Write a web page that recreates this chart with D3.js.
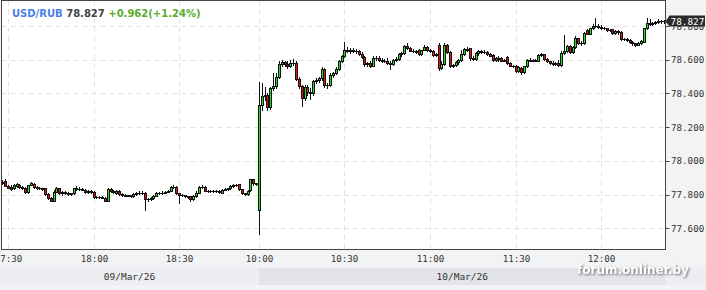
<!DOCTYPE html>
<html>
<head>
<meta charset="utf-8">
<script src="https://cdn.jsdelivr.net/npm/d3@7"></script>
<style>
  html, body { margin: 0; padding: 0; background: #f2f3f5; }
  svg { display: block; }
</style>
</head>
<body>
<div id="chart"></div>
<script>
// --- data ---
const pair = 'USD/RUB'
const lastPrice = 78.827
const changeText = '+0.962(+1.24%)'
const dayLabels = ['09/Mar/26', '10/Mar/26']
const dayStarts = ['17:28', '10:00']
const timeTicks = ['17:30', '18:00', '18:30', '10:00', '10:30', '11:00', '11:30', '12:00']
const priceTicks = [77.6, 77.8, 78.0, 78.2, 78.4, 78.6, 78.8]

// one candle per minute: [open, high, low, close]
const day1 = [
  [77.872,77.888,77.865,77.878],[77.883,77.890,77.850,77.852],[77.852,77.860,77.838,77.842],[77.848,77.855,77.826,77.832],
  [77.838,77.865,77.835,77.860],[77.850,77.868,77.845,77.864],[77.860,77.865,77.842,77.846],[77.846,77.850,77.835,77.840],
  [77.840,77.845,77.810,77.818],[77.818,77.860,77.810,77.858],[77.858,77.875,77.855,77.868],[77.866,77.870,77.840,77.845],
  [77.845,77.850,77.835,77.838],[77.838,77.845,77.832,77.838],[77.838,77.842,77.830,77.836],[77.838,77.840,77.800,77.804],
  [77.806,77.810,77.775,77.779],[77.779,77.785,77.760,77.765],[77.765,77.825,77.762,77.818],[77.818,77.845,77.815,77.838],
  [77.838,77.842,77.805,77.808],[77.808,77.820,77.800,77.816],[77.816,77.820,77.805,77.812],[77.812,77.815,77.800,77.805],
  [77.805,77.812,77.800,77.808],[77.808,77.840,77.805,77.838],[77.838,77.850,77.830,77.834],[77.834,77.845,77.830,77.832],
  [77.832,77.838,77.825,77.830],[77.830,77.834,77.810,77.818],[77.818,77.825,77.810,77.820],[77.820,77.825,77.810,77.815],
  [77.815,77.820,77.780,77.785],[77.785,77.790,77.780,77.785],[77.785,77.790,77.780,77.784],[77.784,77.790,77.778,77.782],
  [77.782,77.785,77.760,77.765],[77.765,77.840,77.760,77.832],[77.832,77.838,77.815,77.820],[77.820,77.825,77.810,77.818],
  [77.810,77.828,77.805,77.824],[77.824,77.830,77.800,77.806],[77.806,77.810,77.795,77.800],[77.800,77.805,77.790,77.795],
  [77.795,77.800,77.790,77.797],[77.797,77.800,77.785,77.792],[77.792,77.810,77.788,77.806],[77.806,77.815,77.800,77.810],
  [77.810,77.820,77.805,77.812],[77.812,77.820,77.805,77.810],[77.812,77.815,77.710,77.773],[77.773,77.780,77.765,77.772],
  [77.772,77.785,77.768,77.782],[77.780,77.800,77.775,77.795],[77.795,77.815,77.790,77.810],[77.810,77.818,77.805,77.812],
  [77.812,77.820,77.805,77.812],[77.812,77.822,77.810,77.818],[77.818,77.830,77.815,77.824],[77.824,77.850,77.820,77.844],
  [77.844,77.855,77.838,77.848],[77.845,77.850,77.805,77.808],[77.808,77.812,77.749,77.798],[77.798,77.805,77.790,77.796],
  [77.796,77.800,77.785,77.790],[77.790,77.795,77.780,77.787],[77.790,77.795,77.765,77.772],[77.772,77.800,77.768,77.790],
  [77.790,77.820,77.785,77.812],[77.812,77.850,77.810,77.845],[77.845,77.855,77.840,77.846],[77.848,77.850,77.820,77.824],
  [77.824,77.828,77.815,77.820],[77.820,77.825,77.815,77.822],[77.822,77.826,77.815,77.820],[77.820,77.825,77.815,77.820],
  [77.820,77.825,77.812,77.818],[77.812,77.835,77.810,77.830],[77.830,77.840,77.826,77.834],[77.834,77.842,77.830,77.838],
  [77.838,77.855,77.835,77.850],[77.850,77.862,77.845,77.857],[77.857,77.865,77.850,77.858],[77.864,77.866,77.828,77.832],
  [77.832,77.835,77.805,77.808],[77.808,77.812,77.800,77.806],[77.806,77.830,77.800,77.824],[77.826,77.895,77.820,77.890],
  [77.890,77.895,77.860,77.868],[77.868,77.872,77.855,77.864]
]

const day2 = [
  [77.710,78.470,77.567,78.330],[78.330,78.460,78.300,78.385],[78.385,78.440,78.360,78.390],[78.390,78.400,78.300,78.318],
  [78.318,78.440,78.310,78.434],[78.434,78.520,78.420,78.445],[78.445,78.520,78.430,78.500],[78.500,78.590,78.490,78.573],
  [78.573,78.600,78.565,78.585],[78.585,78.595,78.565,78.572],[78.572,78.590,78.550,78.560],[78.560,78.600,78.555,78.578],
  [78.578,78.605,78.570,78.582],[78.582,78.590,78.478,78.484],[78.484,78.500,78.430,78.444],[78.444,78.450,78.326,78.375],
  [78.375,78.450,78.360,78.440],[78.440,78.450,78.390,78.410],[78.410,78.430,78.370,78.400],[78.400,78.480,78.390,78.474],
  [78.474,78.490,78.465,78.480],[78.480,78.500,78.470,78.490],[78.490,78.555,78.480,78.547],[78.547,78.550,78.440,78.452],
  [78.452,78.460,78.430,78.450],[78.450,78.520,78.445,78.510],[78.510,78.530,78.500,78.520],[78.520,78.555,78.515,78.545],
  [78.545,78.600,78.540,78.593],[78.593,78.630,78.585,78.622],[78.622,78.707,78.615,78.660],[78.660,78.675,78.645,78.652],
  [78.652,78.670,78.640,78.655],[78.655,78.670,78.645,78.650],[78.650,78.665,78.640,78.652],[78.652,78.660,78.630,78.635],
  [78.635,78.645,78.610,78.618],[78.618,78.625,78.565,78.575],[78.575,78.585,78.565,78.578],[78.578,78.590,78.555,78.565],
  [78.565,78.620,78.560,78.612],[78.612,78.625,78.600,78.610],[78.610,78.620,78.590,78.598],[78.598,78.610,78.585,78.595],
  [78.595,78.605,78.585,78.590],[78.590,78.610,78.575,78.580],[78.580,78.590,78.543,78.575],[78.575,78.605,78.570,78.600],
  [78.600,78.615,78.595,78.605],[78.605,78.640,78.600,78.634],[78.634,78.645,78.625,78.638],[78.638,78.685,78.635,78.680],
  [78.680,78.700,78.665,78.672],[78.672,78.675,78.650,78.654],[78.654,78.665,78.645,78.650],[78.650,78.660,78.640,78.648],
  [78.658,78.665,78.630,78.634],[78.634,78.660,78.630,78.658],[78.658,78.685,78.655,78.678],[78.678,78.680,78.650,78.656],
  [78.656,78.665,78.645,78.654],[78.654,78.660,78.620,78.628],[78.628,78.640,78.620,78.632],[78.690,78.700,78.540,78.550],
  [78.550,78.590,78.545,78.575],[78.575,78.700,78.570,78.690],[78.690,78.695,78.640,78.645],[78.645,78.650,78.555,78.565],
  [78.565,78.575,78.555,78.570],[78.570,78.590,78.565,78.585],[78.585,78.605,78.575,78.600],[78.600,78.660,78.595,78.635],
  [78.635,78.670,78.630,78.662],[78.662,78.675,78.650,78.660],[78.668,78.670,78.600,78.610],[78.610,78.625,78.600,78.605],
  [78.605,78.645,78.600,78.637],[78.637,78.655,78.630,78.650],[78.650,78.660,78.640,78.648],[78.648,78.655,78.640,78.648],
  [78.648,78.652,78.630,78.635],[78.635,78.640,78.620,78.625],[78.630,78.635,78.595,78.600],[78.600,78.615,78.595,78.610],
  [78.610,78.620,78.590,78.605],[78.610,78.615,78.590,78.595],[78.595,78.605,78.590,78.600],[78.618,78.625,78.575,78.579],
  [78.579,78.585,78.560,78.565],[78.565,78.570,78.555,78.562],[78.562,78.570,78.530,78.535],[78.535,78.560,78.530,78.555],
  [78.550,78.555,78.518,78.526],[78.526,78.565,78.520,78.560],[78.560,78.605,78.555,78.600],[78.600,78.610,78.590,78.595],
  [78.595,78.605,78.590,78.600],[78.600,78.605,78.590,78.595],[78.595,78.635,78.590,78.628],[78.628,78.640,78.620,78.632],
  [78.632,78.635,78.600,78.605],[78.605,78.610,78.585,78.590],[78.590,78.595,78.575,78.582],[78.582,78.590,78.570,78.575],
  [78.575,78.585,78.570,78.578],[78.580,78.600,78.565,78.570],[78.570,78.650,78.565,78.642],[78.642,78.747,78.635,78.650],
  [78.650,78.690,78.645,78.680],[78.680,78.690,78.640,78.645],[78.645,78.680,78.640,78.675],[78.675,78.740,78.670,78.727],
  [78.727,78.730,78.695,78.700],[78.700,78.710,78.690,78.702],[78.702,78.765,78.695,78.757],[78.775,78.780,78.750,78.755],
  [78.755,78.790,78.750,78.786],[78.786,78.810,78.780,78.800],[78.800,78.845,78.795,78.800],[78.800,78.810,78.790,78.795],
  [78.796,78.805,78.780,78.786],[78.786,78.795,78.780,78.786],[78.786,78.790,78.770,78.776],[78.776,78.785,78.770,78.776],
  [78.780,78.785,78.755,78.760],[78.760,78.775,78.755,78.770],[78.770,78.775,78.755,78.762],[78.766,78.770,78.715,78.721],
  [78.721,78.730,78.715,78.722],[78.724,78.730,78.710,78.718],[78.718,78.720,78.700,78.707],[78.707,78.710,78.690,78.698],
  [78.697,78.700,78.680,78.687],[78.687,78.705,78.685,78.700],[78.700,78.715,78.695,78.713],[78.707,78.790,78.705,78.786],
  [78.786,78.845,78.780,78.818],[78.820,78.840,78.805,78.812],[78.812,78.825,78.805,78.818],[78.818,78.830,78.810,78.822],
  [78.822,78.840,78.815,78.830],[78.830,78.835,78.820,78.828],[78.828,78.835,78.820,78.827]
]

// --- layout ---
const width = 706, height = 290
const plot = { left: 1.5, right: 665.5, top: 0.5, bottom: 249.5 }

function addMinutes(start, n) {
  const [h, m] = start.split(':').map(Number)
  const t = h * 60 + m + n
  return String(Math.floor(t / 60)) + ':' + String(t % 60).padStart(2, '0')
}

const candles = []
;[day1, day2].forEach((day, d) => {
  day.forEach((c, i) => {
    candles.push({ slot: candles.length, day: d, time: addMinutes(dayStarts[d], i),
      open: c[0], high: c[1], low: c[2], close: c[3] })
  })
})

const x = d3.scaleLinear().domain([-0.28, 232.6]).range([plot.left, plot.right])
const y = d3.scaleLinear().domain([77.6, 78.8]).range([228.4, 26.0])

const svg = d3.select('#chart').append('svg')
  .attr('width', width).attr('height', height)
  .style('font-family', '"DejaVu Sans Mono", monospace')

svg.append('rect').attr('width', width).attr('height', height).attr('fill', '#f2f3f5')

// day bands under the time axis
const dayBreak = Math.round(x(candles.find(c => c.day === 1).slot))
const bands = [
  { label: dayLabels[0], x0: 0, x1: dayBreak, fill: '#eceef1' },
  { label: dayLabels[1], x0: dayBreak, x1: plot.right, fill: '#e2e4e7' }
]
svg.append('rect').attr('x', plot.right).attr('y', 268).attr('width', width - plot.right).attr('height', 17).attr('fill', '#eceef1')
const band = svg.selectAll('.band').data(bands).enter().append('g').attr('class', 'band')
band.append('rect')
  .attr('x', d => d.x0).attr('y', 268)
  .attr('width', d => d.x1 - d.x0).attr('height', 17)
  .attr('fill', d => d.fill)
band.append('text')
  .attr('x', d => (d.x0 + d.x1) / 2).attr('y', 280)
  .attr('text-anchor', 'middle')
  .attr('font-size', 9.5).attr('fill', '#333')
  .text(d => d.label)

svg.append('rect')
  .attr('x', plot.left).attr('y', plot.top)
  .attr('width', plot.right - plot.left).attr('height', plot.bottom - plot.top)
  .attr('fill', '#fff')

const tickSlots = timeTicks.map((t, k) => {
  const c = candles.find(c => c.time === t && c.day === (k < 3 ? 0 : 1))
  return { label: t, px: Math.round(x(c.slot)) + 0.5 }
})

// grid
const grid = svg.append('g').attr('stroke', '#e2e2e2').attr('stroke-dasharray', '5,4')
grid.selectAll('.hg').data(priceTicks).enter().append('line')
  .attr('x1', plot.left).attr('x2', plot.right)
  .attr('y1', d => Math.round(y(d)) + 0.5).attr('y2', d => Math.round(y(d)) + 0.5)
grid.selectAll('.vg').data(tickSlots).enter().append('line')
  .attr('x1', d => d.px).attr('x2', d => d.px)
  .attr('y1', plot.top).attr('y2', plot.bottom)

// candles
svg.append('clipPath').attr('id', 'clip').append('rect')
  .attr('x', plot.left).attr('y', plot.top)
  .attr('width', plot.right - plot.left).attr('height', plot.bottom - plot.top)
const cg = svg.append('g').attr('clip-path', 'url(#clip)')
const g = cg.selectAll('.candle').data(candles).enter().append('g').attr('class', 'candle')
  .attr('transform', d => `translate(${Math.round(x(d.slot))},0)`)
g.append('line')
  .attr('x1', 0.5).attr('x2', 0.5)
  .attr('y1', d => Math.round(y(d.high))).attr('y2', d => Math.round(y(d.low)) + 1)
  .attr('stroke', '#111')
g.each(function (d) {
  const top = Math.round(y(Math.max(d.open, d.close))) + 0.5
  const bot = Math.round(y(Math.min(d.open, d.close))) + 0.5
  const sel = d3.select(this)
  if (bot - top < 1) {
    sel.append('line').attr('x1', -1).attr('x2', 2).attr('y1', top).attr('y2', top).attr('stroke', '#111')
  } else {
    sel.append('rect')
      .attr('x', -0.5).attr('y', top).attr('width', 2).attr('height', bot - top)
      .attr('fill', d.close >= d.open ? '#1ee61e' : '#e81010')
      .attr('stroke', '#111')
  }
})

// frame
svg.append('rect')
  .attr('x', plot.left).attr('y', plot.top)
  .attr('width', plot.right - plot.left).attr('height', plot.bottom - plot.top)
  .attr('fill', 'none').attr('stroke', '#444')

// price axis
const ya = svg.append('g')
ya.selectAll('line').data(priceTicks).enter().append('line')
  .attr('x1', plot.right).attr('x2', plot.right + 4)
  .attr('y1', d => Math.round(y(d)) + 0.5).attr('y2', d => Math.round(y(d)) + 0.5)
  .attr('stroke', '#444')
ya.selectAll('text').data(priceTicks).enter().append('text')
  .attr('x', plot.right + 5.5).attr('y', d => y(d) + 3.5)
  .attr('font-size', 9.2).attr('fill', '#333')
  .text(d => d3.format('.3f')(d))

// time axis
svg.append('g').selectAll('text').data(tickSlots).enter().append('text')
  .attr('x', d => d.px).attr('y', 262)
  .attr('text-anchor', 'middle')
  .attr('font-size', 9.2).attr('fill', '#333')
  .text(d => d.label)

// last price tag
const ty = y(lastPrice)
const tag = svg.append('g')
tag.append('path')
  .attr('d', `M${plot.right},${ty} L${plot.right + 4},${ty - 6} L${width - 1},${ty - 6} L${width - 1},${ty + 5} L${plot.right + 4},${ty + 5} Z`)
  .attr('fill', '#2a2a2a')
tag.append('text')
  .attr('x', plot.right + 5).attr('y', ty + 3.5)
  .attr('font-size', 9.4).attr('fill', '#fff')
  .text(d3.format('.3f')(lastPrice))

// title
const title = svg.append('text')
  .attr('x', 12).attr('y', 17)
  .attr('font-family', '"DejaVu Sans", sans-serif')
  .attr('font-weight', 'bold').attr('font-size', 10)
title.append('tspan').attr('fill', '#4a80e6').text(pair)
title.append('tspan').attr('fill', '#444').text(' ' + d3.format('.3f')(lastPrice))
title.append('tspan').attr('fill', '#5aaa2e').text(' ' + changeText)

// watermark
svg.append('text')
  .attr('x', 577).attr('y', 274)
  .attr('font-family', '"DejaVu Sans", sans-serif')
  .attr('font-weight', 'bold').attr('font-size', 12)
  .attr('fill', '#fff')
  .style('filter', 'drop-shadow(1px 1px 1px rgba(0,0,0,0.55))')
  .text('forum.onliner.by')
</script>
</body>
</html>
